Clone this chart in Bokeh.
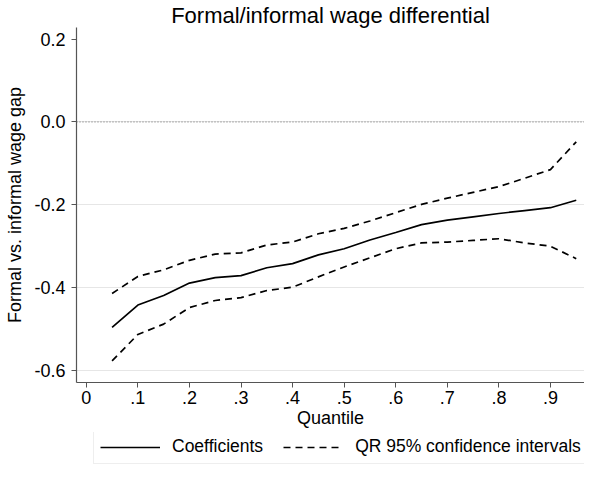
from bokeh.plotting import figure
from bokeh.layouts import column
from bokeh.models import (Range1d, FixedTicker, Legend, LegendItem, Span,
                          NumeralTickFormatter)
from bokeh.embed import file_html
from bokeh.resources import INLINE

quantiles = [0.05, 0.10, 0.15, 0.20, 0.25, 0.30, 0.35, 0.40, 0.45, 0.50,
             0.55, 0.60, 0.65, 0.70, 0.75, 0.80, 0.85, 0.90, 0.95]
coef = [-0.496, -0.442, -0.419, -0.389, -0.376, -0.371, -0.352, -0.342, -0.321, -0.306,
        -0.285, -0.267, -0.248, -0.237, -0.229, -0.221, -0.214, -0.207, -0.189]
ci_upper = [-0.414, -0.373, -0.357, -0.334, -0.319, -0.316, -0.297, -0.290, -0.270, -0.257,
            -0.239, -0.219, -0.199, -0.184, -0.170, -0.156, -0.136, -0.115, -0.048]
ci_lower = [-0.577, -0.513, -0.488, -0.448, -0.431, -0.424, -0.407, -0.399, -0.374, -0.350,
            -0.328, -0.306, -0.292, -0.290, -0.286, -0.282, -0.292, -0.300, -0.330]

x_ticks = [0, 0.1, 0.2, 0.3, 0.4, 0.5, 0.6, 0.7, 0.8, 0.9]
x_tick_labels = ["0", ".1", ".2", ".3", ".4", ".5", ".6", ".7", ".8", ".9"]
y_ticks = [-0.6, -0.4, -0.2, 0.0, 0.2]
y_grid = [-0.6, -0.4, -0.2, 0.0]
legend_labels = ["Coefficients", "QR 95% confidence intervals"]

FONT = "Liberation Sans"

p = figure(width=584, height=432, output_backend="svg", toolbar_location=None,
           x_range=Range1d(-0.019, 0.966), y_range=Range1d(-0.629, 0.228),
           title="Formal/informal wage differential",
           min_border_left=76, min_border_right=0, min_border_top=20,
           min_border_bottom=50)

p.title.align = "center"
p.title.text_font = FONT
p.title.text_font_size = "22px"
p.title.text_font_style = "normal"
p.title.text_color = "black"
p.title.standoff = 0

p.outline_line_color = None
p.background_fill_color = "white"
p.border_fill_color = "white"

p.xaxis.ticker = FixedTicker(ticks=x_ticks)
p.xaxis.major_label_overrides = {t: l for t, l in zip(x_ticks, x_tick_labels)}
p.yaxis.ticker = FixedTicker(ticks=y_ticks)
p.yaxis.formatter = NumeralTickFormatter(format="0.0")
p.xaxis.axis_label = "Quantile"
p.yaxis.axis_label = "Formal vs. informal wage gap"
for ax in (p.xaxis[0], p.yaxis[0]):
    ax.axis_line_color = "#555555"
    ax.axis_line_width = 1.2
    ax.major_tick_line_color = "#555555"
    ax.major_tick_out = 5
    ax.major_tick_in = 0
    ax.minor_tick_line_color = None
    ax.major_label_text_font = FONT
    ax.major_label_text_font_size = "18px"
    ax.major_label_text_color = "black"
    ax.axis_label_text_font = FONT
    ax.axis_label_text_font_size = "18px"
    ax.axis_label_text_font_style = "normal"
    ax.axis_label_text_color = "black"
p.xaxis.major_label_standoff = 3
p.xaxis.axis_label_standoff = 1
p.yaxis.major_label_standoff = 6
p.yaxis.axis_label_standoff = 6
p.yaxis.major_label_orientation = "horizontal"

p.xgrid.grid_line_color = None
p.ygrid.ticker = FixedTicker(ticks=y_grid)
p.ygrid.grid_line_color = "#e6e6e6"
p.ygrid.grid_line_width = 1.2

zero = Span(location=0.0, dimension="width", line_color="#666666",
            line_dash="1 2", line_width=1)
p.add_layout(zero)

p.line(quantiles, coef, line_color="black", line_width=1.7)
p.line(quantiles, ci_upper, line_color="black", line_width=1.7, line_dash="7 5")
p.line(quantiles, ci_lower, line_color="black", line_width=1.7, line_dash="7 5")

# legend strip below the chart (its lines lie outside its visible range)
pl = figure(width=584, height=32, output_backend="svg", toolbar_location=None,
            x_range=Range1d(0, 1), y_range=Range1d(0, 1),
            x_axis_location=None, y_axis_location=None,
            min_border_left=0, min_border_right=0, min_border_top=0,
            min_border_bottom=0)
pl.grid.visible = False
pl.outline_line_color = None
pl.border_fill_color = "white"
pl.background_fill_color = "white"
l_solid = pl.line(quantiles, coef, line_color="black", line_width=1.7)
l_dash = pl.line(quantiles, ci_lower, line_color="black", line_width=1.7, line_dash="7 5")
legend = Legend(items=[LegendItem(label=legend_labels[0], renderers=[l_solid]),
                       LegendItem(label=legend_labels[1], renderers=[l_dash])],
                orientation="horizontal", location=(17, 0),
                glyph_width=60, glyph_height=18, label_standoff=12, spacing=20,
                padding=6, margin=0,
                label_text_font=FONT, label_text_font_size="17.5px", label_text_color="black",
                border_line_color="#dddddd", border_line_width=1,
                background_fill_color="white", background_fill_alpha=1.0)
pl.add_layout(legend, "center")

layout = column(p, pl, spacing=0)
open("out.html", "w").write(file_html(layout, INLINE))
